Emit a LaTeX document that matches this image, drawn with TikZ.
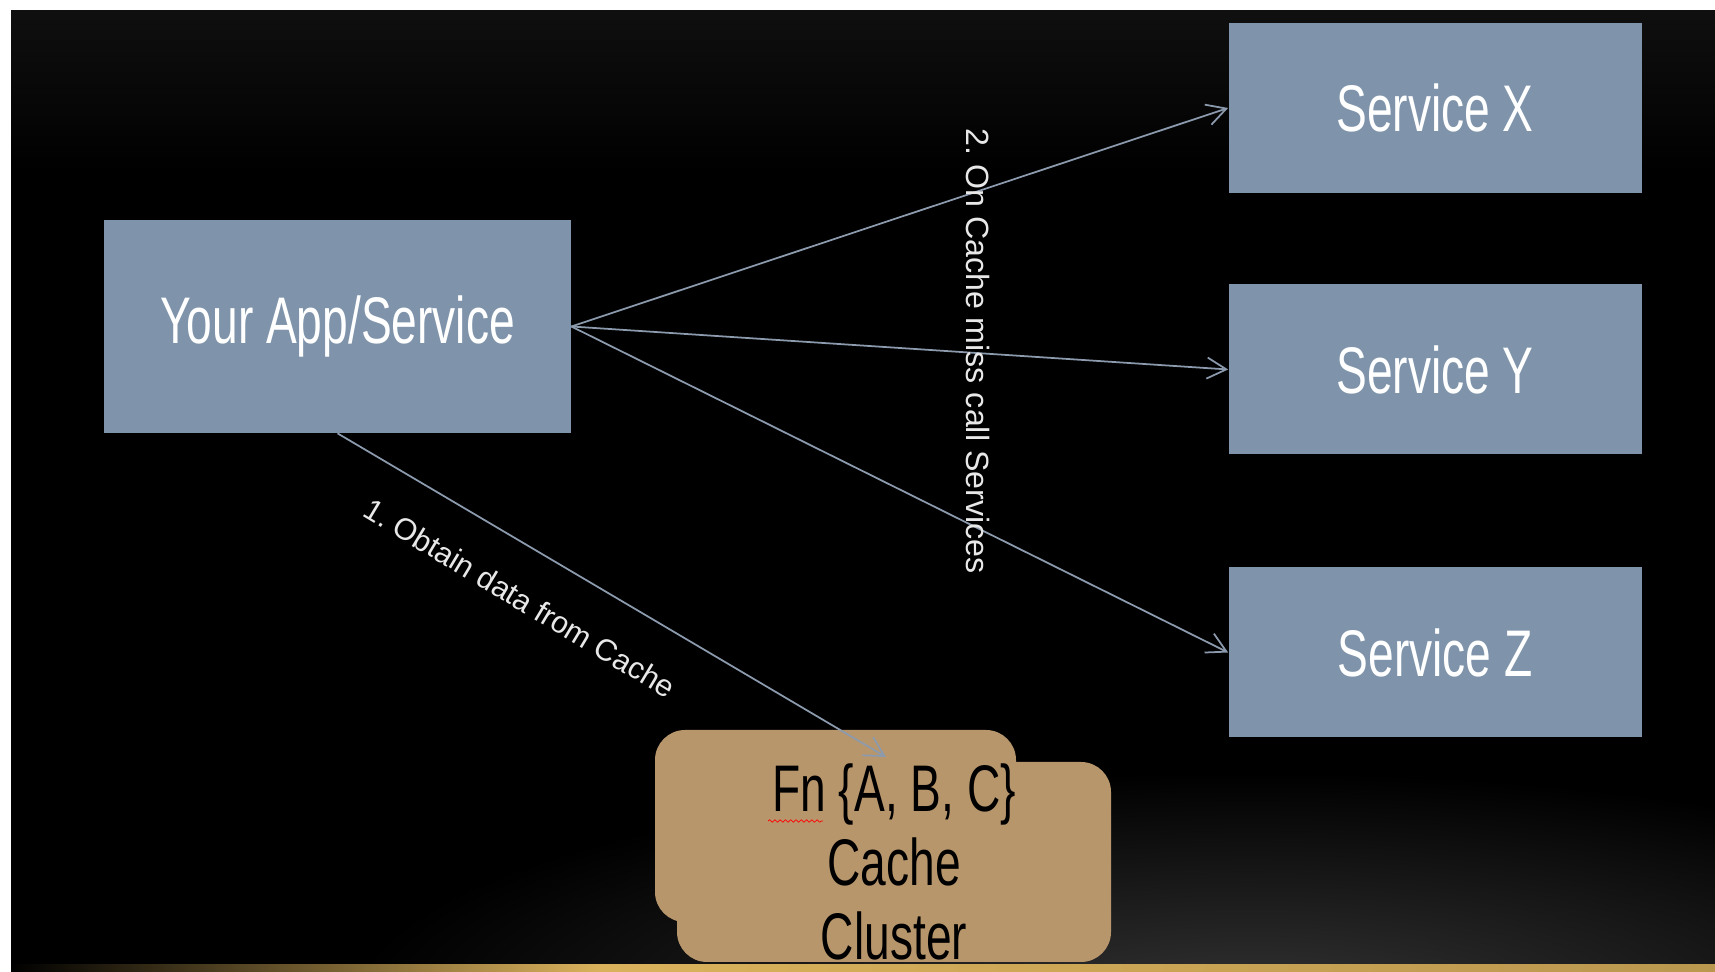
\documentclass[tikz,border=0pt]{standalone}
\usepackage{fontspec}
\setmainfont{Liberation Sans}
\newfontfamily\narrowsans[FakeStretch=0.7]{Liberation Sans}
\usepackage{xcolor}
\definecolor{boxBlue}{RGB}{127,148,170}
\definecolor{cacheTan}{RGB}{184,150,108}
\definecolor{linkGray}{RGB}{140,154,174}
\definecolor{labelGray}{RGB}{232,232,232}
\definecolor{goldLine}{RGB}{218,178,92}
\usetikzlibrary{arrows.meta, decorations.pathmorphing}
\frenchspacing

\begin{document}
\begin{tikzpicture}[scale=1,
		svcbox/.style={fill=boxBlue, minimum width=8.26cm, minimum height=3.4cm, inner sep=0pt, text=white, font=\narrowsans\fontsize{37.5}{42}\selectfont},
		cachebox/.style={fill=cacheTan, rounded corners=0.6cm, inner sep=0pt},
		link/.style={-{Straight Barb[length=11pt,width=12pt]}, draw=linkGray, line width=1pt},
		steplabel/.style={text=labelGray, inner sep=0pt}]
			\useasboundingbox (0,0) rectangle (34.3,19.44);

			% Background (white frame, dark slide, glow and gold line)
			\fill[white] (0,0) rectangle (34.3,19.44);
			\fill[black] (0.22,0) rectangle (34.3,19.22);
			\shade[top color=black!94!white, bottom color=black] (0.22,16) rectangle (34.3,19.22);
			\begin{scope}
				\clip (0.22,0) rectangle (34.3,19.22);
				\shade[inner color=black!80!white, outer color=black] (25,-0.6) ellipse (18 and 4.6);
			\end{scope}
			\shade[left color=black, right color=goldLine] (0.22,0) rectangle (12,0.15);
			\shade[left color=goldLine, right color=goldLine!85!black] (12,0) rectangle (34.3,0.15);

			% App and the services
			\node[svcbox, minimum width=9.34cm, minimum height=4.26cm] (app) at (6.75,12.91) {Your App/Service};
			\foreach \s/\y in {X/17.28, Y/12.05, Z/6.39}
			\node[svcbox] (svc\s) at (28.7,\y) {Service \s};

			% Cache cluster (two overlapping boxes)
			\node[cachebox, minimum width=7.22cm, minimum height=3.84cm] (cacheback) at (16.71,2.92) {};
			\coordinate (cachehit) at (17.72,4.3);
			\draw[link] (app.south) -- (cachehit);
			\node[cachebox, minimum width=8.68cm, minimum height=4cm, align=center, font=\narrowsans\fontsize{37.5}{42}\selectfont] (cache) at (17.88,2.2) {Fn \{A, B, C\}\\Cache\\Cluster};
			\draw[red, decorate, decoration={snake, amplitude=0.7pt, segment length=3pt}] (15.36,3.02) -- (16.46,3.02);

			% Calls on cache miss
			\foreach \s in {X,Y,Z}
			\draw[link] (app.east) -- (svc\s.west);

			% Step labels
			\node[steplabel, rotate=-90, font=\fontsize{18.3}{22}\selectfont] (misslabel) at (19.56,12.42) {2. On Cache miss call Services};
			\node[steplabel, rotate=-31, font=\fontsize{17.3}{21}\selectfont] (obtainlabel) at (10.4,7.48) {1. Obtain data from Cache};
		\end{tikzpicture}
\end{document}
